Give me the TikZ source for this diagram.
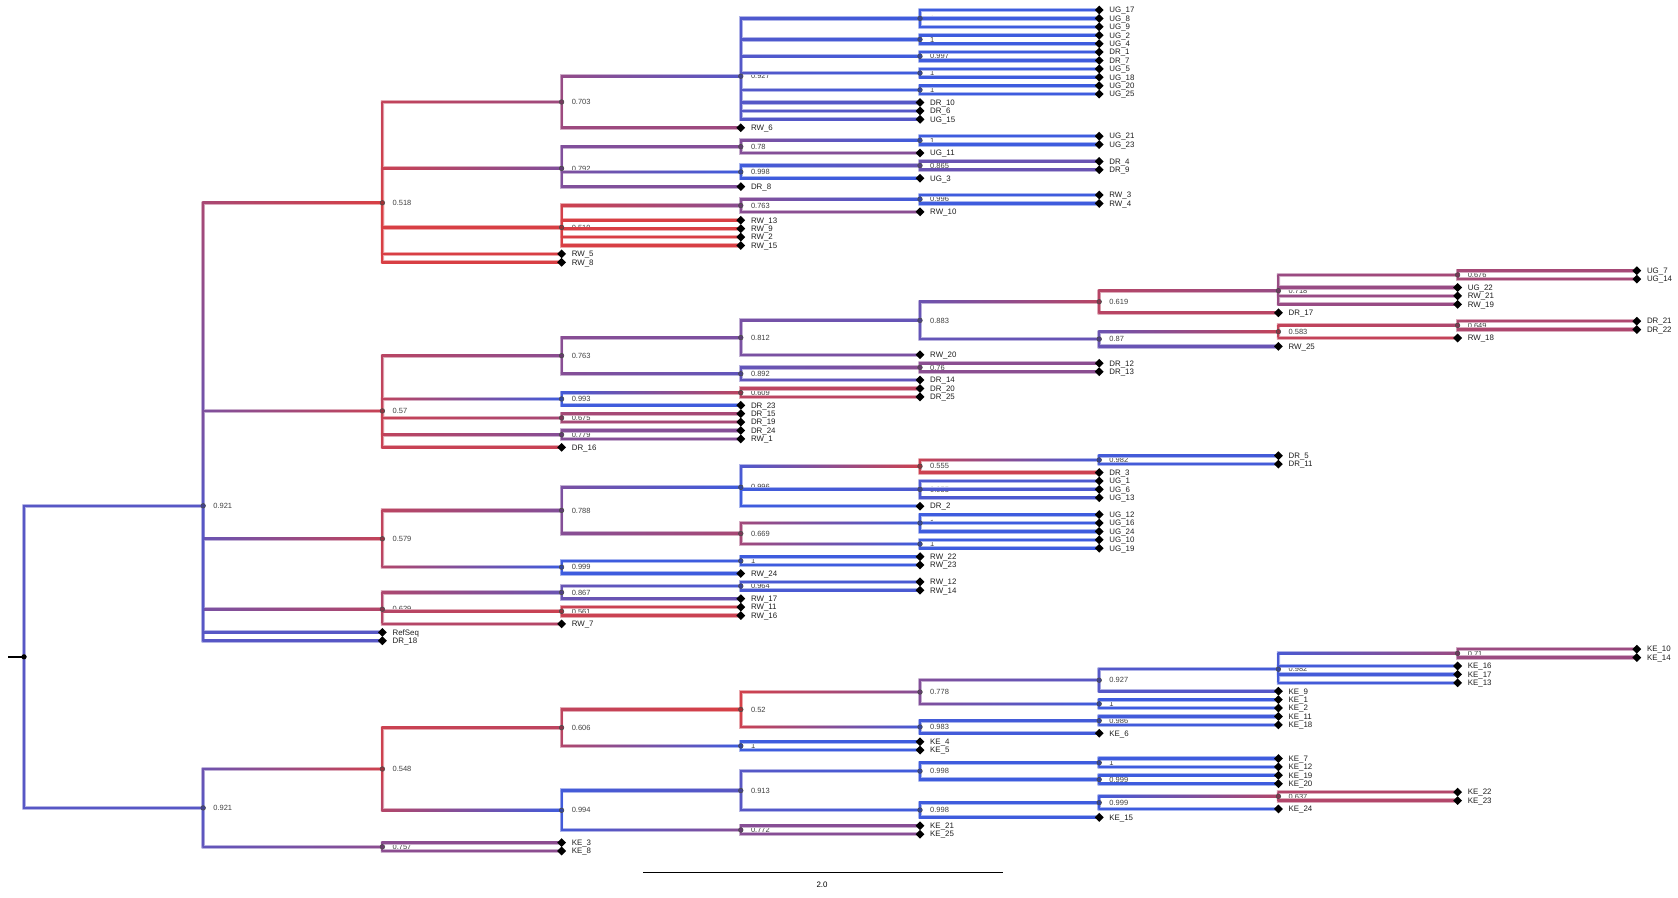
\documentclass[tikz,border=0pt]{standalone}
\usepackage{fontspec}
\setmainfont{Liberation Sans}
\usetikzlibrary{shapes.geometric}
\pgfdeclarelayer{lab}
\pgfdeclarelayer{halo}
\pgfdeclarelayer{edge}
\pgfsetlayers{lab,halo,edge,main}
\definecolor{tblue}{RGB}{62,92,222}
\definecolor{tred}{RGB}{222,62,62}
\newcommand\edgehw{0.8}
\newcommand\halohw{1.6}
\tikzset{
  tipd/.style={diamond,fill=black,draw=none,minimum width=9pt,minimum height=9pt,inner sep=0pt},
  tiplab/.style={anchor=base west,inner sep=0pt,font=\fontsize{7.9}{9}\selectfont,text=black!88},
  postlab/.style={anchor=base west,inner sep=0pt,font=\fontsize{7.5}{9}\selectfont,text=black!75},
  inode/.style={circle,minimum size=4.6pt,inner sep=0pt,line width=0.6pt},
  rootdot/.style={circle,fill=black,minimum size=5pt,inner sep=0pt},
  barlab/.style={inner sep=0pt,font=\fontsize{7.9}{9}\selectfont,text=black}
}
\newcommand\tipnode[4]{%
  \node[tipd] (#1) at ({24+179.2*#2},{10+8.41*#3}) {};
  \path (#1) ++(10,2.8) node[tiplab] {#4};
}
% one L-shaped gradient band, half width #1, colour lightening #2
\newcommand\edgeband[2]{%
  \pgfmathsetmacro\xa{\xP-#1}\pgfmathsetmacro\xb{\xP+#1}%
  \pgfmathsetmacro\ya{\yC-#1}\pgfmathsetmacro\yb{\yC+#1}%
  \ifdim\dY pt>0.5pt
    \ifdim\yC>\yP
      \shade[top color=cK!#2!white,bottom color=cP!#2!white] (\xa pt,\yP) rectangle (\xb pt,\yC);
    \else
      \shade[top color=cP!#2!white,bottom color=cK!#2!white] (\xa pt,\yP) rectangle (\xb pt,\yC);
    \fi
  \fi
  \shade[left color=cK!#2!white,right color=cC!#2!white] (\xa pt,\ya pt) rectangle (\xC,\yb pt);
}
\newcommand\drawedge[2]{%
  \pgfpointanchor{#1}{center}\pgfgetlastxy\xP\yP
  \pgfpointanchor{#2}{center}\pgfgetlastxy\xC\yC
  \edef\tP{\csname tc@#1\endcsname}%
  \edef\tC{\csname tc@#2\endcsname}%
  \pgfmathsetmacro\dY{abs(\yC-\yP)}%
  \pgfmathsetmacro\dX{abs(\xC-\xP)}%
  \pgfmathsetmacro\fK{\dY/(\dY+\dX)}%
  \pgfmathsetmacro\tK{\tP+(\tC-\tP)*\fK}%
  \colorlet{cP}{tblue!\tP!tred}%
  \colorlet{cK}{tblue!\tK!tred}%
  \colorlet{cC}{tblue!\tC!tred}%
  \begin{pgfonlayer}{halo}\edgeband{\halohw}{45}\end{pgfonlayer}%
  \begin{pgfonlayer}{edge}\edgeband{\edgehw}{100}\end{pgfonlayer}%
}
\newcommand\innodex[5]{% name, level, posterior, label, children
  \gdef\sumy{0}\gdef\cntn{0}%
  \foreach \c in {#5}{%
    \pgfpointanchor{\c}{center}\pgfgetlastxy\tmpX\tmpY
    \pgfmathsetmacro\tmpS{\sumy+\tmpY}\global\let\sumy\tmpS
    \pgfmathsetmacro\tmpN{\cntn+1}\global\let\cntn\tmpN
  }%
  \pgfmathsetmacro\yy{\sumy/\cntn}%
  \pgfmathsetmacro\xx{24+179.2*#2}%
  \pgfmathsetmacro\tN{max(0,min(100,(#3-0.5)*200))}%
  \expandafter\xdef\csname tc@#1\endcsname{\tN}%
  \colorlet{cN}{tblue!\tN!tred}%
  \node[inode,fill=cN!75!black,draw=black!70] (#1) at (\xx pt,\yy pt) {};
  \begin{pgfonlayer}{lab}\path (#1) ++(10,2.7) node[postlab] {#4};\end{pgfonlayer}%
  \foreach \c in {#5}{%
    \ifcsname tc@\c\endcsname\else\expandafter\xdef\csname tc@\c\endcsname{\tN}\fi
    \drawedge{#1}{\c}%
  }%
}
\newcommand\innode[4]{\innodex{#1}{#2}{#3}{#3}{#4}}
\begin{document}
\begin{tikzpicture}[x=1pt,y=-1pt]
\useasboundingbox (0,0) rectangle (1678,897);
% tips
\tipnode{UG17}{6}{0}{UG\_17}
\tipnode{UG8}{6}{1}{UG\_8}
\tipnode{UG9}{6}{2}{UG\_9}
\tipnode{UG2}{6}{3}{UG\_2}
\tipnode{UG4}{6}{4}{UG\_4}
\tipnode{DR1}{6}{5}{DR\_1}
\tipnode{DR7}{6}{6}{DR\_7}
\tipnode{UG5}{6}{7}{UG\_5}
\tipnode{UG18}{6}{8}{UG\_18}
\tipnode{UG20}{6}{9}{UG\_20}
\tipnode{UG25}{6}{10}{UG\_25}
\tipnode{DR10}{5}{11}{DR\_10}
\tipnode{DR6}{5}{12}{DR\_6}
\tipnode{UG15}{5}{13}{UG\_15}
\tipnode{RW6}{4}{14}{RW\_6}
\tipnode{UG21}{6}{15}{UG\_21}
\tipnode{UG23}{6}{16}{UG\_23}
\tipnode{UG11}{5}{17}{UG\_11}
\tipnode{DR4}{6}{18}{DR\_4}
\tipnode{DR9}{6}{19}{DR\_9}
\tipnode{UG3}{5}{20}{UG\_3}
\tipnode{DR8}{4}{21}{DR\_8}
\tipnode{RW3}{6}{22}{RW\_3}
\tipnode{RW4}{6}{23}{RW\_4}
\tipnode{RW10}{5}{24}{RW\_10}
\tipnode{RW13}{4}{25}{RW\_13}
\tipnode{RW9}{4}{26}{RW\_9}
\tipnode{RW2}{4}{27}{RW\_2}
\tipnode{RW15}{4}{28}{RW\_15}
\tipnode{RW5}{3}{29}{RW\_5}
\tipnode{RW8}{3}{30}{RW\_8}
\tipnode{UG7}{9}{31}{UG\_7}
\tipnode{UG14}{9}{32}{UG\_14}
\tipnode{UG22}{8}{33}{UG\_22}
\tipnode{RW21}{8}{34}{RW\_21}
\tipnode{RW19}{8}{35}{RW\_19}
\tipnode{DR17}{7}{36}{DR\_17}
\tipnode{DR21}{9}{37}{DR\_21}
\tipnode{DR22}{9}{38}{DR\_22}
\tipnode{RW18}{8}{39}{RW\_18}
\tipnode{RW25}{7}{40}{RW\_25}
\tipnode{RW20}{5}{41}{RW\_20}
\tipnode{DR12}{6}{42}{DR\_12}
\tipnode{DR13}{6}{43}{DR\_13}
\tipnode{DR14}{5}{44}{DR\_14}
\tipnode{DR20}{5}{45}{DR\_20}
\tipnode{DR25}{5}{46}{DR\_25}
\tipnode{DR23}{4}{47}{DR\_23}
\tipnode{DR15}{4}{48}{DR\_15}
\tipnode{DR19}{4}{49}{DR\_19}
\tipnode{DR24}{4}{50}{DR\_24}
\tipnode{RW1}{4}{51}{RW\_1}
\tipnode{DR16}{3}{52}{DR\_16}
\tipnode{DR5}{7}{53}{DR\_5}
\tipnode{DR11}{7}{54}{DR\_11}
\tipnode{DR3}{6}{55}{DR\_3}
\tipnode{UG1}{6}{56}{UG\_1}
\tipnode{UG6}{6}{57}{UG\_6}
\tipnode{UG13}{6}{58}{UG\_13}
\tipnode{DR2}{5}{59}{DR\_2}
\tipnode{UG12}{6}{60}{UG\_12}
\tipnode{UG16}{6}{61}{UG\_16}
\tipnode{UG24}{6}{62}{UG\_24}
\tipnode{UG10}{6}{63}{UG\_10}
\tipnode{UG19}{6}{64}{UG\_19}
\tipnode{RW22}{5}{65}{RW\_22}
\tipnode{RW23}{5}{66}{RW\_23}
\tipnode{RW24}{4}{67}{RW\_24}
\tipnode{RW12}{5}{68}{RW\_12}
\tipnode{RW14}{5}{69}{RW\_14}
\tipnode{RW17}{4}{70}{RW\_17}
\tipnode{RW11}{4}{71}{RW\_11}
\tipnode{RW16}{4}{72}{RW\_16}
\tipnode{RW7}{3}{73}{RW\_7}
\tipnode{RefSeq}{2}{74}{RefSeq}
\tipnode{DR18}{2}{75}{DR\_18}
\tipnode{KE10}{9}{76}{KE\_10}
\tipnode{KE14}{9}{77}{KE\_14}
\tipnode{KE16}{8}{78}{KE\_16}
\tipnode{KE17}{8}{79}{KE\_17}
\tipnode{KE13}{8}{80}{KE\_13}
\tipnode{KE9}{7}{81}{KE\_9}
\tipnode{KE1}{7}{82}{KE\_1}
\tipnode{KE2}{7}{83}{KE\_2}
\tipnode{KE11}{7}{84}{KE\_11}
\tipnode{KE18}{7}{85}{KE\_18}
\tipnode{KE6}{6}{86}{KE\_6}
\tipnode{KE4}{5}{87}{KE\_4}
\tipnode{KE5}{5}{88}{KE\_5}
\tipnode{KE7}{7}{89}{KE\_7}
\tipnode{KE12}{7}{90}{KE\_12}
\tipnode{KE19}{7}{91}{KE\_19}
\tipnode{KE20}{7}{92}{KE\_20}
\tipnode{KE22}{8}{93}{KE\_22}
\tipnode{KE23}{8}{94}{KE\_23}
\tipnode{KE24}{7}{95}{KE\_24}
\tipnode{KE15}{6}{96}{KE\_15}
\tipnode{KE21}{5}{97}{KE\_21}
\tipnode{KE25}{5}{98}{KE\_25}
\tipnode{KE3}{3}{99}{KE\_3}
\tipnode{KE8}{3}{100}{KE\_8}
% internal nodes (postorder)
\innode{n1}{5}{1}{UG17,UG8,UG9}
\innode{n2}{5}{1}{UG2,UG4}
\innode{n3}{5}{0.997}{DR1,DR7}
\innode{n4}{5}{1}{UG5,UG18}
\innode{n5}{5}{1}{UG20,UG25}
\innode{n6}{4}{0.927}{n1,n2,n3,n4,n5,DR10,DR6,UG15}
\innode{n7}{3}{0.703}{n6,RW6}
\innode{n8}{5}{1}{UG21,UG23}
\innode{n9}{4}{0.78}{n8,UG11}
\innode{n10}{5}{0.865}{DR4,DR9}
\innode{n11}{4}{0.998}{n10,UG3}
\innode{n12}{3}{0.792}{n9,n11,DR8}
\innode{n13}{5}{0.996}{RW3,RW4}
\innode{n14}{4}{0.763}{n13,RW10}
\innode{n15}{3}{0.519}{n14,RW13,RW9,RW2,RW15}
\innode{n16}{2}{0.518}{n7,n12,n15,RW5,RW8}
\innode{n17}{8}{0.676}{UG7,UG14}
\innode{n18}{7}{0.718}{n17,UG22,RW21,RW19}
\innode{n19}{6}{0.619}{n18,DR17}
\innode{n20}{8}{0.649}{DR21,DR22}
\innode{n21}{7}{0.583}{n20,RW18}
\innode{n22}{6}{0.87}{n21,RW25}
\innode{n23}{5}{0.883}{n19,n22}
\innode{n24}{4}{0.812}{n23,RW20}
\innode{n25}{5}{0.76}{DR12,DR13}
\innode{n26}{4}{0.892}{n25,DR14}
\innode{n27}{3}{0.763}{n24,n26}
\innode{n28}{4}{0.609}{DR20,DR25}
\innode{n29}{3}{0.993}{n28,DR23}
\innode{n30}{3}{0.675}{DR15,DR19}
\innode{n31}{3}{0.779}{DR24,RW1}
\innode{n32}{2}{0.57}{n27,n29,n30,n31,DR16}
\innode{n33}{6}{0.982}{DR5,DR11}
\innode{n34}{5}{0.555}{n33,DR3}
\innode{n35}{5}{0.955}{UG1,UG6,UG13}
\innode{n36}{4}{0.996}{n34,n35,DR2}
\innode{n37}{5}{1}{UG12,UG16,UG24}
\innode{n38}{5}{1}{UG10,UG19}
\innode{n39}{4}{0.669}{n37,n38}
\innode{n40}{3}{0.788}{n36,n39}
\innode{n41}{4}{1}{RW22,RW23}
\innode{n42}{3}{0.999}{n41,RW24}
\innode{n43}{2}{0.579}{n40,n42}
\innode{n44}{4}{0.964}{RW12,RW14}
\innode{n45}{3}{0.867}{n44,RW17}
\innode{n46}{3}{0.561}{RW11,RW16}
\innode{n47}{2}{0.629}{n45,n46,RW7}
\innode{n48}{1}{0.921}{n16,n32,n43,n47,RefSeq,DR18}
\innode{n49}{8}{0.71}{KE10,KE14}
\innode{n50}{7}{0.982}{n49,KE16,KE17,KE13}
\innode{n51}{6}{0.927}{n50,KE9}
\innode{n52}{6}{1}{KE1,KE2}
\innode{n53}{5}{0.778}{n51,n52}
\innode{n54}{6}{0.986}{KE11,KE18}
\innode{n55}{5}{0.983}{n54,KE6}
\innode{n56}{4}{0.52}{n53,n55}
\innode{n57}{4}{1}{KE4,KE5}
\innode{n58}{3}{0.606}{n56,n57}
\innode{n59}{6}{1}{KE7,KE12}
\innode{n60}{6}{0.999}{KE19,KE20}
\innode{n61}{5}{0.998}{n59,n60}
\innode{n62}{7}{0.637}{KE22,KE23}
\innode{n63}{6}{0.999}{n62,KE24}
\innode{n64}{5}{0.998}{n63,KE15}
\innode{n65}{4}{0.913}{n61,n64}
\innode{n66}{4}{0.772}{KE21,KE25}
\innode{n67}{3}{0.994}{n65,n66}
\innode{n68}{2}{0.548}{n58,n67}
\innode{n69}{2}{0.757}{KE3,KE8}
\innode{n70}{1}{0.921}{n68,n69}
\innodex{root}{0}{0.921}{}{n48,n70}
\node[rootdot] at (root) {};
\coordinate (stub) at ([xshift=-16pt]root.center);
\draw[line width=2pt,black] (stub) -- (root.center);
% scale bar
\coordinate (sb1) at (643,872);
\coordinate (sb2) at (1003,872);
\draw[line width=1pt,black] (sb1) -- (sb2);
\node[barlab] at (822,885) {2.0};
\end{tikzpicture}
\end{document}
